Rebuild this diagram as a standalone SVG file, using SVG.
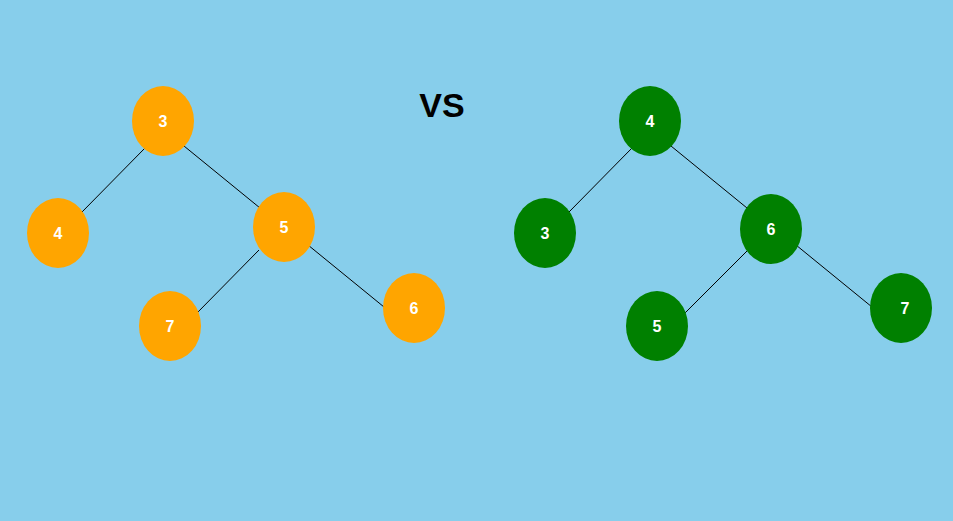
<svg xmlns="http://www.w3.org/2000/svg" width="953" height="521" viewBox="0 0 953 521">
<style>
.o{fill:#FFA500}.g{fill:#008000}
.t{font-family:"Liberation Sans",Arial,sans-serif;font-weight:bold;font-size:16px;fill:#fff;text-anchor:middle}
.e{stroke:#000;stroke-width:1}
</style>
<rect width="953" height="521" fill="#87CEEB"/>
<g id="connectors" class="e">
<line x1="145" y1="148" x2="82" y2="212"/>
<line x1="184" y1="146" x2="260" y2="208"/>
<line x1="259" y1="250" x2="197" y2="313"/>
<line x1="308" y1="245" x2="384" y2="307"/>
<line x1="632" y1="148" x2="569" y2="212"/>
<line x1="671" y1="146" x2="747" y2="208"/>
<line x1="747" y1="251" x2="685" y2="313"/>
<line x1="796" y1="245" x2="872" y2="307"/>
</g>
<g id="L3"><ellipse class="o" cx="163" cy="121" rx="31" ry="35"/><text class="t" x="163" y="127">3</text></g>
<g id="L4"><ellipse class="o" cx="58" cy="233" rx="31" ry="35"/><text class="t" x="58" y="239">4</text></g>
<g id="L5"><ellipse class="o" cx="284" cy="227" rx="31" ry="35"/><text class="t" x="284" y="233">5</text></g>
<g id="L7"><ellipse class="o" cx="170" cy="326" rx="31" ry="35"/><text class="t" x="170" y="332">7</text></g>
<g id="L6"><ellipse class="o" cx="414" cy="308" rx="31" ry="35"/><text class="t" x="414" y="314">6</text></g>
<g id="R4"><ellipse class="g" cx="650" cy="121" rx="31" ry="35"/><text class="t" x="650" y="127">4</text></g>
<g id="R3"><ellipse class="g" cx="545" cy="233" rx="31" ry="35"/><text class="t" x="545" y="239">3</text></g>
<g id="R6"><ellipse class="g" cx="771" cy="229" rx="31" ry="35"/><text class="t" x="771" y="235">6</text></g>
<g id="R5"><ellipse class="g" cx="657" cy="326" rx="31" ry="35"/><text class="t" x="657" y="332">5</text></g>
<g id="R7"><ellipse class="g" cx="901" cy="308" rx="31" ry="35"/><text class="t" x="905" y="314">7</text></g>
<text x="442" y="117" font-family="Liberation Sans,Arial,sans-serif" font-weight="bold" font-size="34" text-anchor="middle" fill="#000">VS</text>
</svg>
